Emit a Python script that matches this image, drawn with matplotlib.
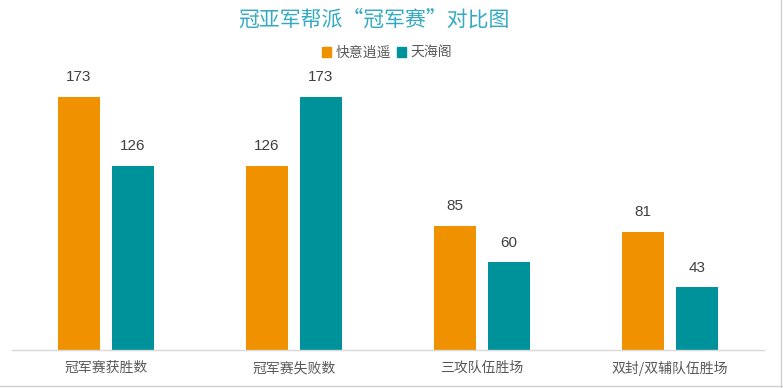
import numpy as np
import matplotlib.pyplot as plt
from matplotlib.lines import Line2D

plt.rcParams['font.family'] = ['Noto Sans CJK SC', 'DejaVu Sans']

categories = ['冠军赛获胜数', '冠军赛失败数', '三攻队伍胜场', '双封/双辅队伍胜场']
series_names = ['快意逍遥', '天海阁']
kuaiyi = [173, 126, 85, 81]
tianhai = [126, 173, 60, 43]
colors = ['#F09200', '#00929A']

W, H = 783, 388
fig = plt.figure(figsize=(W / 100, H / 100), dpi=100)
ax = fig.add_axes([12 / W, (H - 350) / H, (764 - 12) / W, (350 - 57.5) / H])

x = np.arange(len(categories))
bw = 0.2234
off = 0.1436
for vals, c, d in [(kuaiyi, colors[0], -off), (tianhai, colors[1], off)]:
    bars = ax.bar(x + d, vals, width=bw, color=c)
    for b, v in zip(bars, vals):
        ax.annotate(str(v), (b.get_x() + b.get_width() / 2, v), xytext=(0, 9),
                    textcoords='offset points', ha='center', va='bottom',
                    fontsize=11, color='#404040', family=['Liberation Sans'])

ax.set_xlim(-0.5, len(categories) - 0.5)
ax.set_ylim(0, 200)
ax.set_yticks([])
ax.set_xticks(x)
ax.set_xticklabels(categories, fontsize=10, color='#595959')
ax.tick_params(axis='x', length=0, pad=8)
for s in ['top', 'right', 'left']:
    ax.spines[s].set_visible(False)
ax.spines['bottom'].set_color('#D9D9D9')
ax.spines['bottom'].set_linewidth(1)

fig.text(374 / W, 1 - 20 / H, '冠亚军帮派“冠军赛”对比图',
         ha='center', va='center', fontsize=15, color='#33AAC2', fontweight='light')

handles = [plt.Rectangle((0, 0), 1, 1, color=c) for c in colors]
fig.legend(handles, series_names, loc='center', bbox_to_anchor=(387 / W, 1 - 53 / H),
           ncol=2, frameon=False, fontsize=10, handlelength=0.7, handleheight=0.7,
           handletextpad=0.3, columnspacing=0.4, labelcolor='#595959')

# outer frame lines at right and bottom
fig.add_artist(Line2D([781 / W, 781 / W], [0, 1], color='#D0D0D0', lw=1))
fig.add_artist(Line2D([0, 1], [2 / H, 2 / H], color='#D0D0D0', lw=1))

fig.savefig('out.png', dpi=100)
